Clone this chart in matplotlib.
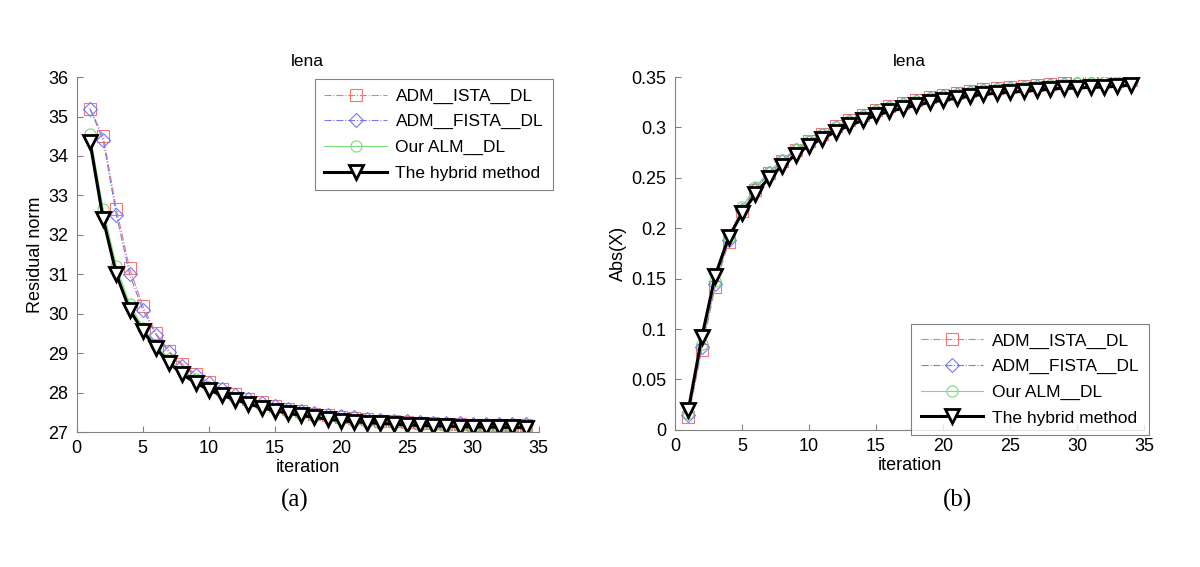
import numpy as np
import matplotlib
matplotlib.use('Agg')
import matplotlib.pyplot as plt

plt.rcParams['font.family'] = ['Liberation Sans', 'DejaVu Sans']

it = np.arange(1, 35)
labels = ['ADM__ISTA__DL', 'ADM__FISTA__DL', 'Our ALM__DL', 'The hybrid method']

# (a) residual norm
res_ista = [35.2, 34.5, 32.65, 31.15, 30.2, 29.5, 29.05, 28.72, 28.47, 28.27, 28.1, 27.96, 27.85,
            27.75, 27.66, 27.59, 27.53, 27.47, 27.43, 27.39, 27.35, 27.32, 27.29, 27.27, 27.25,
            27.24, 27.22, 27.21, 27.2, 27.19, 27.19, 27.18, 27.18, 27.17]
res_fista = [35.2, 34.4, 32.5, 31.0, 30.1, 29.47, 29.02, 28.68, 28.44, 28.24, 28.08, 27.95, 27.84,
             27.74, 27.66, 27.59, 27.53, 27.48, 27.44, 27.4, 27.37, 27.34, 27.31, 27.29, 27.27,
             27.26, 27.24, 27.23, 27.22, 27.21, 27.21, 27.2, 27.2, 27.2]
res_alm = [34.55, 32.65, 31.2, 30.25, 29.65, 29.2, 28.85, 28.56, 28.34, 28.15, 28.0, 27.87, 27.76,
           27.67, 27.59, 27.52, 27.46, 27.41, 27.37, 27.33, 27.29, 27.26, 27.24, 27.22, 27.2,
           27.18, 27.17, 27.16, 27.15, 27.14, 27.14, 27.13, 27.13, 27.12]
res_hyb = [34.35, 32.4, 31.0, 30.1, 29.57, 29.12, 28.76, 28.46, 28.25, 28.07, 27.93, 27.82, 27.71,
           27.62, 27.54, 27.48, 27.42, 27.37, 27.33, 27.29, 27.26, 27.24, 27.22, 27.2, 27.18,
           27.17, 27.16, 27.15, 27.14, 27.13, 27.13, 27.12, 27.12, 27.11]

# (b) Abs(X)
abs_ista = [0.013, 0.079, 0.142, 0.186, 0.217, 0.238, 0.255, 0.267, 0.278, 0.287, 0.294, 0.301,
            0.307, 0.312, 0.317, 0.321, 0.324, 0.327, 0.33, 0.332, 0.334, 0.336, 0.338, 0.339,
            0.34, 0.341, 0.342, 0.343, 0.344, 0.345, 0.345, 0.346, 0.346, 0.347]
abs_fista = [0.015, 0.082, 0.145, 0.188, 0.218, 0.239, 0.255, 0.267, 0.278, 0.286, 0.293, 0.3,
             0.306, 0.311, 0.316, 0.32, 0.323, 0.326, 0.329, 0.331, 0.333, 0.335, 0.337, 0.338,
             0.339, 0.34, 0.341, 0.342, 0.343, 0.344, 0.344, 0.345, 0.345, 0.346]
abs_alm = [0.017, 0.085, 0.148, 0.19, 0.221, 0.241, 0.256, 0.268, 0.279, 0.287, 0.294, 0.3,
           0.306, 0.311, 0.316, 0.32, 0.323, 0.326, 0.329, 0.331, 0.333, 0.335, 0.337, 0.338,
           0.339, 0.34, 0.341, 0.342, 0.343, 0.344, 0.344, 0.345, 0.345, 0.346]
abs_hyb = [0.02, 0.092, 0.153, 0.191, 0.215, 0.234, 0.25, 0.262, 0.273, 0.282, 0.289, 0.296,
           0.302, 0.307, 0.312, 0.316, 0.319, 0.322, 0.325, 0.327, 0.329, 0.331, 0.333, 0.334,
           0.335, 0.336, 0.337, 0.338, 0.339, 0.339, 0.34, 0.34, 0.341, 0.342]

c_red = '#ec7878'
c_blue = '#7878ec'
c_green = '#78dc78'


def draw(ax, ys, ylim, yticks, yticklabels, ylabel):
    ax.plot(it, ys[0], '-.', c=c_red, lw=0.8, marker='s', ms=8, mfc='none', mec=c_red, mew=0.8, label=labels[0])
    ax.plot(it, ys[1], '-.', c=c_blue, lw=0.8, marker='D', ms=7, mfc='none', mec=c_blue, mew=0.8, label=labels[1])
    ax.plot(it, ys[2], '-', c=c_green, lw=0.8, marker='o', ms=8, mfc='none', mec=c_green, mew=0.8, label=labels[2])
    ax.plot(it, ys[3], '-', c='black', lw=2.2, marker='v', ms=10, mfc='white', mec='black', mew=2.0, label=labels[3])
    ax.set_xlim(0, 35)
    ax.set_ylim(*ylim)
    ax.set_xticks(range(0, 36, 5))
    ax.set_yticks(yticks)
    ax.set_yticklabels(yticklabels)
    ax.tick_params(direction='in', labelsize=13, color='#808080', length=4, pad=6)
    for s in ['top', 'right']:
        ax.spines[s].set_visible(False)
    for s in ['left', 'bottom']:
        ax.spines[s].set_color('#808080')
    ax.set_title('lena', fontsize=12.5, pad=8)
    ax.set_xlabel('iteration', fontsize=13, labelpad=1)
    ax.set_ylabel(ylabel, fontsize=13, labelpad=3)


fig = plt.figure(figsize=(12, 5.67), dpi=100)
ax1 = fig.add_axes([0.064, 0.238, 0.385, 0.626])
ax2 = fig.add_axes([0.5625, 0.242, 0.391, 0.622])

draw(ax1, [res_ista, res_fista, res_alm, res_hyb], (27, 36), range(27, 37),
     [str(v) for v in range(27, 37)], 'Residual norm')
draw(ax2, [abs_ista, abs_fista, abs_alm, abs_hyb], (0, 0.35), np.arange(0, 0.36, 0.05),
     ['0', '0.05', '0.1', '0.15', '0.2', '0.25', '0.3', '0.35'], 'Abs(X)')

leg_kw = dict(fontsize=12.5, frameon=True, fancybox=False, handlelength=3.6, borderpad=0.55,
              labelspacing=0.6, handletextpad=0.5, borderaxespad=0)
l1 = ax1.legend(loc='upper right', bbox_to_anchor=(1.03, 0.995), **leg_kw)
l2 = ax2.legend(loc='lower right', bbox_to_anchor=(1.01, -0.015), **leg_kw)
for lg in (l1, l2):
    lg.get_frame().set_edgecolor('#606060')
    lg.get_frame().set_linewidth(0.8)

fig.text(295 / 1200, 1 - 500 / 567, '(a)', family='Liberation Serif', fontsize=18, ha='center', va='center')
fig.text(958 / 1200, 1 - 500 / 567, '(b)', family='Liberation Serif', fontsize=18, ha='center', va='center')

fig.savefig('out.png', dpi=100, facecolor='white')
